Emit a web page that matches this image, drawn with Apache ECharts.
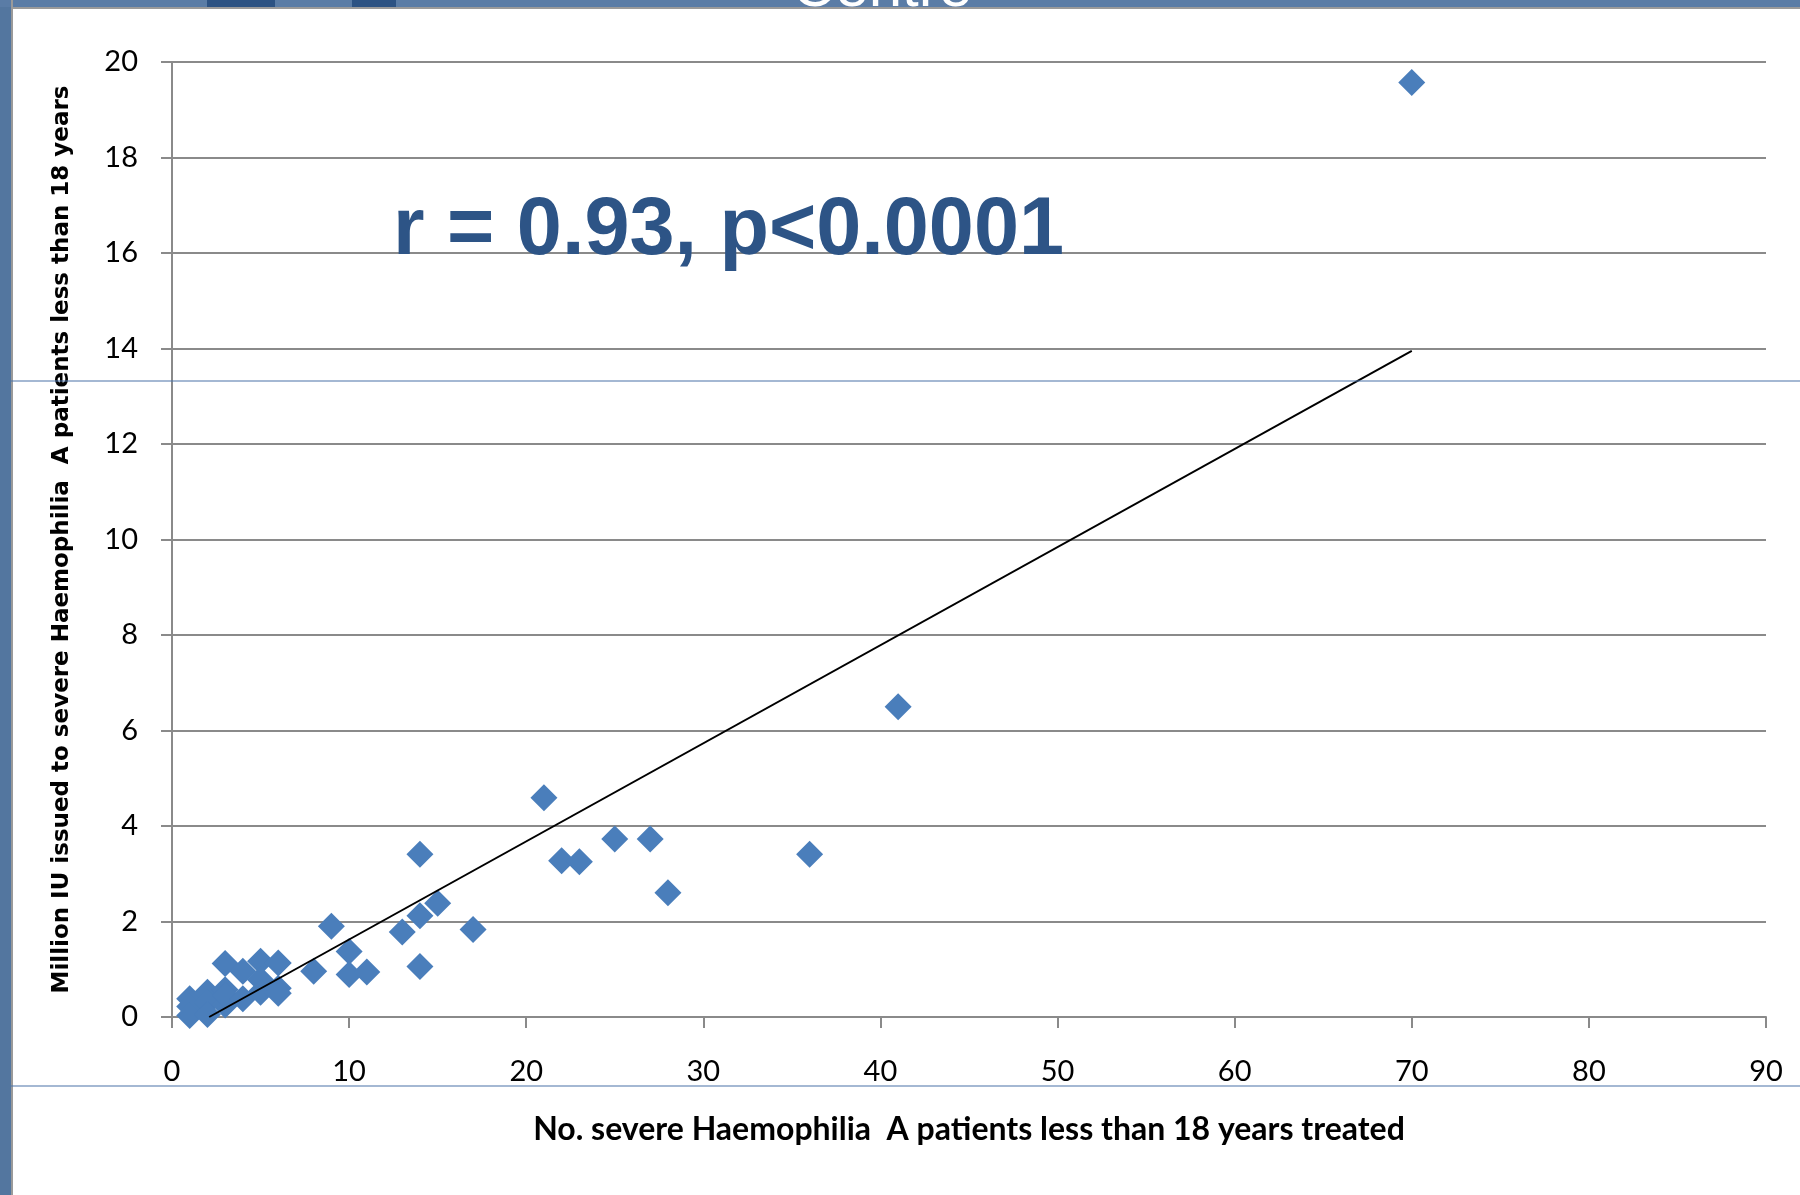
<!DOCTYPE html>
<html>
<head>
<meta charset="utf-8">
<script src="https://cdn.jsdelivr.net/npm/echarts@6/dist/echarts.min.js"></script>
<style>
html,body{margin:0;padding:0;background:#fff;}
#chart{width:1800px;height:1195px;}
</style>
</head>
<body>
<div id="chart"></div>
<script>
// Data
const patientsTreated = [1, 1, 1, 2, 2, 2, 3, 3, 3, 3, 4, 4, 5, 5, 5, 6, 6, 6,
  8, 9, 10, 10, 11, 13, 14, 14, 14, 15, 17, 21, 22, 23, 25, 27, 28, 36, 41, 70];
const millionIU = [0.38, 0.22, 0.03, 0.52, 0.3, 0.05, 1.12, 0.57, 0.25, 0.45, 0.96, 0.38, 1.17, 0.78, 0.52, 1.13, 0.6, 0.5,
  0.96, 1.9, 1.37, 0.89, 0.94, 1.78, 2.12, 1.06, 3.41, 2.38, 1.83, 4.59, 3.27, 3.25, 3.73, 3.73, 2.6, 3.41, 6.5, 19.57];
const trendX = [2.1, 70];
const trendY = [0, 13.95];
const xTicks = { min: 0, max: 90, interval: 10 };
const yTicks = { min: 0, max: 20, interval: 2 };
const xTitle = 'No. severe Haemophilia  A patients less than 18 years treated';
const yTitle = 'Million IU issued to severe Haemophilia  A patients less than 18 years';
const annotation = 'r = 0.93, p<0.0001';

const points = patientsTreated.map((x, i) => [x, millionIU[i]]);
const trend = trendX.map((x, i) => [x, trendY[i]]);

const gray = '#8a8a8a';
const chart = echarts.init(document.getElementById('chart'), null, { renderer: 'canvas' });
chart.setOption({
  animation: false,
  backgroundColor: '#ffffff',
  grid: { left: 172, right: 34, top: 62, bottom: 178, containLabel: false },
  xAxis: {
    type: 'value', min: xTicks.min, max: xTicks.max, interval: xTicks.interval,
    name: xTitle, nameLocation: 'middle', nameGap: 97,
    nameTextStyle: { fontFamily: 'Lato', fontWeight: 'bold', fontSize: 32, color: '#000' },
    axisLine: { show: true, onZero: false, lineStyle: { color: gray, width: 2 } },
    axisTick: { show: true, inside: false, length: 11, lineStyle: { color: gray, width: 2 } },
    axisLabel: { show: true, margin: 40, fontFamily: 'Lato', fontSize: 29, color: '#000' },
    splitLine: { show: false }
  },
  yAxis: {
    type: 'value', min: yTicks.min, max: yTicks.max, interval: yTicks.interval,
    name: yTitle, nameLocation: 'middle', nameGap: 98, nameRotate: 90,
    nameTextStyle: { fontFamily: 'DejaVu Sans', fontWeight: 'bold', fontSize: 23, color: '#000' },
    axisLine: { show: true, onZero: false, lineStyle: { color: gray, width: 2 } },
    axisTick: { show: true, inside: false, length: 11, lineStyle: { color: gray, width: 2 } },
    axisLabel: { show: true, margin: 34, fontFamily: 'Lato', fontSize: 29, color: '#000' },
    splitLine: { show: true, lineStyle: { color: gray, width: 2 } }
  },
  series: [
    {
      type: 'scatter', data: points, symbol: 'diamond', symbolSize: 27,
      itemStyle: { color: '#4A7EBB', opacity: 1 }, emphasis: { disabled: true }, z: 2
    },
    {
      type: 'line', data: trend, symbol: 'none', silent: true,
      lineStyle: { color: '#000', width: 2 }, z: 3
    }
  ],
  graphic: [
    { type: 'rect', shape: { x: 0, y: 0, width: 11, height: 1195 }, style: { fill: '#53769f' }, z: 10 },
    { type: 'rect', shape: { x: 0, y: 0, width: 1800, height: 7 }, style: { fill: '#5a7ca6' }, z: 10 },
    { type: 'rect', shape: { x: 207, y: 0, width: 68, height: 7 }, style: { fill: '#2c5283' }, z: 11 },
    { type: 'rect', shape: { x: 352, y: 0, width: 44, height: 7 }, style: { fill: '#2c5283' }, z: 11 },
    { type: 'line', shape: { x1: 12, y1: 0, x2: 12, y2: 1195 }, style: { stroke: '#9a9a9a', lineWidth: 2 }, z: 10 },
    { type: 'line', shape: { x1: 11, y1: 8, x2: 1800, y2: 8 }, style: { stroke: '#9a9a9a', lineWidth: 2 }, z: 10 },
    { type: 'text', x: 792, y: 19, style: { text: 'Centre', font: '60px "Liberation Sans Narrow", "Liberation Sans"', fill: '#ffffff', verticalAlign: 'bottom' }, z: 12 },
    { type: 'line', shape: { x1: 11, y1: 381, x2: 1800, y2: 381 }, style: { stroke: '#4a73a8', lineWidth: 1.2 }, z: 20 },
    { type: 'line', shape: { x1: 11, y1: 1086, x2: 1800, y2: 1086 }, style: { stroke: '#4a73a8', lineWidth: 1.2 }, z: 20 },
    { type: 'text', x: 393, y: 272, style: { text: annotation, font: 'bold 81px "Liberation Sans"', fill: '#2d5486', verticalAlign: 'bottom' }, z: 15 }
  ]
});
</script>
</body>
</html>
